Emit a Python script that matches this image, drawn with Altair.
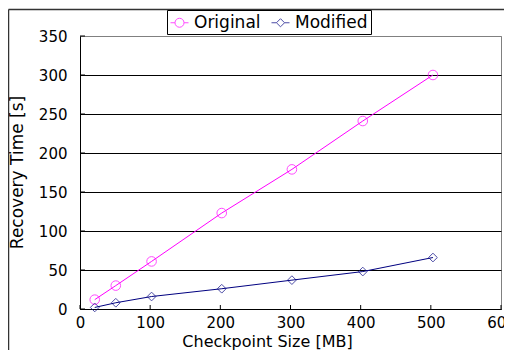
import altair as alt
import pandas as pd

# ---- data ----
sizes = [21, 51, 102, 202, 302, 403, 503]
original = [12, 30, 61, 123, 179, 241, 300]
modified = [2, 8, 16, 26, 37, 48, 66]
series = ["Original", "Modified"]
colors = ["#FF00FF", "#000080"]
x_ticks = [0, 100, 200, 300, 400, 500, 600]
y_ticks = [0, 50, 100, 150, 200, 250, 300, 350]

df = pd.DataFrame({
    "size": sizes * 2,
    "time": original + modified,
    "series": ["Original"] * len(sizes) + ["Modified"] * len(sizes),
})
xt = pd.DataFrame({"size": x_ticks})
yt = pd.DataFrame({"time": y_ticks})
one = pd.DataFrame({"f": [0]})

W, H = 421, 273
FONT = "DejaVu Sans"

circle_path = "M-1,0L-0.5,0M0.5,0L1,0M0.5,0A0.5,0.5 0 1,1 -0.5,0A0.5,0.5 0 1,1 0.5,0"
diamond_path = "M-1,0L-0.45,0M0.45,0L1,0M0,-0.45L0.45,0L0,0.45L-0.45,0Z"

xscale = alt.Scale(domain=[0, 600], nice=False)
yscale = alt.Scale(domain=[0, 350], nice=False)
xaxis = alt.Axis(values=x_ticks, grid=False, title="Checkpoint Size [MB]",
                 titleX=187, titleY=37, titleBaseline="alphabetic", titleFontSize=16,
                 labelPadding=6, format="d", labelFlush=False, labelOverlap=False)
yaxis = alt.Axis(values=y_ticks, grid=True, title="Recovery Time [s]",
                 titleX=-58, titleY=136, titleBaseline="alphabetic",
                 labelPadding=13, format="d", labelFlush=False, labelOverlap=False,
                 gridColor={"condition": {"test": "datum.value === 350", "value": "#808080"},
                            "value": "black"})

legend = alt.Legend(
    title=None, orient="none", legendX=87, legendY=-26, direction="horizontal",
    strokeColor="black", fillColor="white", padding=3, cornerRadius=0,
    symbolSize=324, symbolStrokeWidth=1, symbolFillColor="transparent",
    labelFont=FONT, labelFontSize=17,
    labelColor="black", labelOffset=5, columnPadding=8,
    symbolType={"expr": "datum.value === 'Original' ? '%s' : '%s'" % (circle_path, diamond_path)},
)

x_enc = alt.X("size:Q", scale=xscale, axis=xaxis)
y_enc = alt.Y("time:Q", scale=yscale, axis=yaxis)
color_enc = alt.Color("series:N", scale=alt.Scale(domain=series, range=colors), legend=legend)

base = alt.Chart(df)

frame_left = alt.Chart(one).mark_rule(color="#333333", strokeWidth=1.5).encode(
    x=alt.value(-71.5), y=alt.value(-26.5), y2=alt.value(H + 41))
frame_top = alt.Chart(one).mark_rule(color="#333333", strokeWidth=1.5).encode(
    x=alt.value(-71.5), x2=alt.value(W + 3), y=alt.value(-26.5))

xticks = alt.Chart(xt).mark_rule(color="black", strokeWidth=1).encode(
    x=alt.X("size:Q", scale=xscale, axis=xaxis), y=alt.value(H), y2=alt.value(H - 4))
yticks = alt.Chart(yt).mark_rule(color="black", strokeWidth=1).encode(
    y=alt.Y("time:Q", scale=yscale, axis=yaxis), x=alt.value(0), x2=alt.value(5))

lines = base.mark_line(strokeWidth=1).encode(x=x_enc, y=y_enc, color=color_enc)

pts_orig = base.transform_filter("datum.series === 'Original'").mark_point(
    shape="circle", filled=False, size=92, strokeWidth=1
).encode(x=x_enc, y=y_enc, color=color_enc)
pts_mod = base.transform_filter("datum.series === 'Modified'").mark_point(
    shape="diamond", filled=False, size=76, strokeWidth=1
).encode(x=x_enc, y=y_enc, color=color_enc)

chart = alt.layer(frame_left, frame_top, xticks, yticks, lines, pts_orig, pts_mod).properties(
    width=W, height=H,
    autosize=alt.AutoSizeParams(type="none"),
    padding={"left": 72, "top": 28, "right": 3, "bottom": 41},
).configure_view(stroke="#808080", strokeWidth=1).configure_axis(
    domainColor="black", ticks=False, labelFont=FONT, labelFontSize=15, labelColor="black",
    titleFont=FONT, titleFontSize=17, titleFontWeight="normal", titleColor="black",
    gridWidth=1, domainWidth=1,
)

chart.save("out.html", embed_options={"renderer": "svg", "actions": False})
